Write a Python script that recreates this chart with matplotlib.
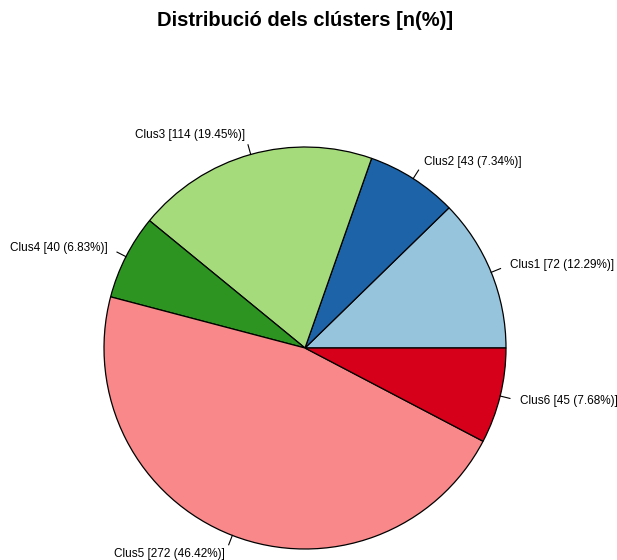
import numpy as np
import matplotlib.pyplot as plt

plt.rcParams['font.family'] = ['Liberation Sans', 'DejaVu Sans']

clusters = ["Clus1", "Clus2", "Clus3", "Clus4", "Clus5", "Clus6"]
counts = [72, 43, 114, 40, 272, 45]
colors = ["#97c4dd", "#1c63a8", "#a6db7b", "#2d9422", "#f88889", "#d7001a"]

total = sum(counts)
labels = [f"{c} [{n} ({100 * n / total:.2f}%)]" for c, n in zip(clusters, counts)]

fig = plt.figure(figsize=(6.17, 5.6), dpi=100)
ax = fig.add_axes([0, 0, 1, 1])

cx, cy, r = 305, 212, 201  # pie centre / radius in pixel units
ax.pie(counts, colors=colors, startangle=0, counterclock=True,
       center=(cx, cy), radius=r,
       wedgeprops=dict(edgecolor="black", linewidth=0.9))

# R-style labels: tick from 1.0 to 1.05 radius, text at 1.1 radius
cum = np.cumsum([0] + counts)
for i, lab in enumerate(labels):
    mid = np.deg2rad((cum[i] + cum[i + 1]) / 2 / total * 360)
    c, s = np.cos(mid), np.sin(mid)
    ax.plot([cx + r * c, cx + 1.05 * r * c], [cy + r * s, cy + 1.05 * r * s],
            color="black", linewidth=0.8)
    ax.text(cx + 1.1 * r * c, cy + 1.1 * r * s, lab,
            ha="left" if c > 0 else "right", va="center", fontsize=8.5)

ax.set_xlim(0, 617)
ax.set_ylim(0, 560)
ax.set_aspect("auto")
ax.axis("off")

fig.text(305 / 617, 1 - 21 / 560, "Distribució dels clústers [n(%)]",
         ha="center", va="center", fontsize=14.5, fontweight="bold")

fig.savefig("out.png", dpi=100)
